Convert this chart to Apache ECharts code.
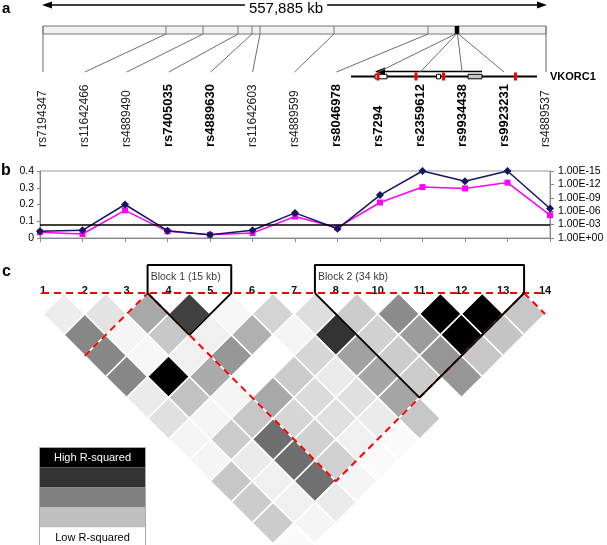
<!DOCTYPE html>
<html><head><meta charset="utf-8">
<script src="https://cdn.jsdelivr.net/npm/echarts/dist/echarts.min.js"></script>
<style>html,body{margin:0;padding:0;background:#fff}#c{width:607px;height:545px}</style>
</head><body><div id="c"></div>
<script>
// ---------------- data ----------------
const snpIds = ['rs7194347','rs11642466','rs4889490','rs7405035','rs4889630','rs11642603','rs4889599','rs8046978','rs7294','rs2359612','rs9934438','rs9923231','rs4889537'];
const boldSnps = ['rs7405035','rs4889630','rs8046978','rs7294','rs2359612','rs9934438','rs9923231'];
const vkorc1Snps = ['rs7294','rs2359612','rs9934438','rs9923231'];
const regionKb = 557.885;
const snpPosKb = [0, 136.4, 177.5, 216.3, 231.8, 240.7, 322.8, 427.0, 457.5, 458.6, 459.7, 460.8, 557.885];

// panel b
const effectValues = [0.04, 0.046, 0.20, 0.044, 0.02, 0.046, 0.15, 0.055, 0.256, 0.40, 0.339, 0.40, 0.176];
const pValueNegLog10 = [1.3, 0.9, 6.2, 1.5, 0.7, 1.1, 4.8, 2.3, 7.95, 11.4, 11.1, 12.4, 5.1];
const pThresholdNegLog10 = 3;
const leftTicks = [0, 0.1, 0.2, 0.3, 0.4];
const rightTickLabels = ['1.00E+00','1.00E-03','1.00E-06','1.00E-09','1.00E-12','1.00E-15'];

// panel c : r-squared by marker distance (row 1 = adjacent pairs)
const ldMarkerLabels = ['1','2','3','4','5','6','7','8','10','11','12','13','14'];
const ldRows = [
  [0.07,0.11,0.34,0.75,0.03,0.17,0.13,0.20,0.45,1.0,1.0,0.22],
  [0.47,0.04,0.22,0.06,0.31,0.04,0.80,0.18,0.39,1.0,0.23],
  [0.47,0.03,0.06,0.41,0.00,0.16,0.37,0.20,0.41,0.22],
  [0.47,1.0,0.33,0.00,0.20,0.08,0.35,0.20,0.41],
  [0.08,0.24,0.04,0.34,0.14,0.12,0.35,0.00],
  [0.12,0.04,0.22,0.16,0.12,0.08,0.22],
  [0.04,0.20,0.57,0.18,0.06,0.02],
  [0.04,0.08,0.57,0.18,0.02],
  [0.22,0.06,0.56,0.04],
  [0.20,0.06,0.08],
  [0.20,0.04],
  [0.02]
];
const blockNames = ['Block 1 (15 kb)', 'Block 2 (34 kb)'];
const blockMarkers = [[4,5],[8,12]];
const dashedBlocks = [[1,3],[4,12],[13,13]];
const legendLabels = ['High R-squared','Low R-squared'];
const legendShades = ['#000000','#333333','#808080','#c0c0c0','#ffffff'];

// ---------------- chart ----------------
const FONT = 'Liberation Sans, Arial, Helvetica, sans-serif';
const nM = ldMarkerLabels.length;
const chart = echarts.init(document.getElementById('c'), null, {renderer:'canvas'});

const ldData = [];
ldRows.forEach((row, ri) => {
  const r = ri + 1;
  row.forEach((v, k) => { const i = k + 1, j = i + r; ldData.push([(i + j) / 2, r, v]); });
});

const boxTop = -1.34;
const lineSeries = [];
function addLine(pts, color, dashed, width) {
  lineSeries.push({type:'line', xAxisIndex:3, yAxisIndex:4, data:pts, symbol:'none', silent:true, clip:false, animation:false,
    lineStyle:{color:color, width:width, type: dashed ? [7,5] : 'solid'}, z:5});
}
addLine([[0.69,0],[nM+0.5,0]], '#ff0000', true, 2);
dashedBlocks.forEach(([a,b]) => {
  const bottom = [(a+b)/2, b-a+1];
  const pts = [];
  if (a > 1) pts.push([a-0.5, 0]);
  pts.push(bottom);
  if (b < nM) pts.push([b+0.5, 0]);
  addLine(pts, '#ff0000', true, 2);
});
blockMarkers.forEach(([a,b]) => {
  addLine([[a-0.5,0],[a-0.5,boxTop],[b+0.5,boxTop],[b+0.5,0],[(a+b)/2,b-a+1],[a-0.5,0]], '#000', false, 2);
});

const option = {
  animation:false,
  textStyle:{fontFamily:FONT},
  grid:[
    {left:43, width:503, top:26, height:46},
    {left:43, width:503, top:149, height:1},
    {left:40, width:510, top:171, height:67, show:true, borderColor:'#999', borderWidth:1},
    {left:43, width:502, top:293.1, height:250.8}
  ],
  xAxis:[
    {gridIndex:0, type:'value', min:0, max:regionKb, show:false},
    {gridIndex:1, type:'category', data:snpIds, position:'top', boundaryGap:false,
      axisLine:{show:false}, axisTick:{show:false},
      axisLabel:{rotate:90, margin:2, interval:0, color:'#000',
        formatter: v => boldSnps.includes(v) ? '{b|'+v+'}' : '{n|'+v+'}',
        rich:{b:{fontWeight:'bold', fontSize:13, fontFamily:FONT, color:'#000'}, n:{fontSize:12, fontFamily:FONT, color:'#222'}}}},
    {gridIndex:2, type:'category', data:snpIds, boundaryGap:false,
      axisLine:{lineStyle:{color:'#888'}}, axisTick:{show:true, length:4, interval:0, lineStyle:{color:'#888'}},
      axisLabel:{show:false}, splitLine:{show:false}},
    {gridIndex:3, type:'value', min:1, max:nM, interval:1, position:'top',
      axisLine:{show:false}, axisTick:{show:false}, splitLine:{show:false},
      axisLabel:{margin:-3, fontSize:11, fontWeight:'bold', color:'#111', fontFamily:FONT,
        formatter: v => ldMarkerLabels[Math.round(v)-1] || ''}}
  ],
  yAxis:[
    {gridIndex:0, type:'value', min:0, max:1, show:false},
    {gridIndex:1, type:'value', show:false},
    {gridIndex:2, type:'value', min:leftTicks[0], max:leftTicks[leftTicks.length-1], interval:0.1,
      axisLine:{show:true, lineStyle:{color:'#888'}}, axisTick:{show:true, length:3, lineStyle:{color:'#888'}},
      splitLine:{show:false},
      axisLabel:{fontSize:10.5, color:'#000', margin:6, formatter: v => v === 0 ? '0' : v.toFixed(1)}},
    {gridIndex:2, type:'value', position:'right', min:0, max:15, interval:3,
      axisLine:{show:true, lineStyle:{color:'#888'}}, axisTick:{show:true, length:4, lineStyle:{color:'#888'}},
      splitLine:{show:false},
      axisLabel:{fontSize:10.5, color:'#000', margin:8, formatter: v => rightTickLabels[Math.round(v/3)]}},
    {gridIndex:3, type:'value', inverse:true, min:0, max:12, show:false}
  ],
  series:[
    {type:'custom', xAxisIndex:0, yAxisIndex:0, silent:true, data:[[0, regionKb]],
      renderItem(params, api){
        const cs = params.coordSys;
        const x0 = api.coord([api.value(0),0])[0], x1 = api.coord([api.value(1),0])[0];
        return {type:'rect', shape:{x:x0, y:cs.y, width:x1-x0, height:8}, style:{fill:'#f1f1f1', stroke:'#777', lineWidth:1}};
      }},
    {type:'custom', xAxisIndex:0, yAxisIndex:0, silent:true, z:3,
      data: snpPosKb.map((kb,k) => [kb,k]),
      renderItem(params, api){
        const cs = params.coordSys;
        const k = api.value(1);
        const x = api.coord([api.value(0),0])[0];
        const xl = api.coord([k/(snpIds.length-1)*regionKb,0])[0];
        const inGene = vkorc1Snps.includes(snpIds[params.dataIndex]);
        return {type:'group', children:[
          {type:'line', shape:{x1:x,y1:cs.y,x2:x,y2:cs.y+8}, style:{stroke: inGene?'#000':'#777', lineWidth: inGene?1.5:1}},
          {type:'line', shape:{x1:x,y1:cs.y+8,x2:xl,y2:cs.y+cs.height}, style:{stroke:'#6d6d6d', lineWidth:1}}
        ]};
      }},
    {type:'line', name:'p', xAxisIndex:2, yAxisIndex:3, data:pValueNegLog10, color:'#ff00ff',
      symbol:'rect', symbolSize:6, lineStyle:{width:1.5, color:'#ff00ff'}, itemStyle:{color:'#ff00ff'},
      markLine:{silent:true, symbol:'none', label:{show:false}, data:[{yAxis:pThresholdNegLog10}],
        lineStyle:{color:'#000', width:1.5, type:'solid'}}},
    {type:'line', name:'r', xAxisIndex:2, yAxisIndex:2, data:effectValues, color:'#161660',
      symbol:'diamond', symbolSize:8, lineStyle:{width:1.5, color:'#161660'}, itemStyle:{color:'#161660'}, z:4},
    {type:'custom', xAxisIndex:3, yAxisIndex:4, silent:true, data:ldData,
      renderItem(params, api){
        const cx = api.value(0), r = api.value(1), v = api.value(2);
        const pts = [api.coord([cx-0.5,r]), api.coord([cx,r-1]), api.coord([cx+0.5,r]), api.coord([cx,r+1])];
        const g = Math.round(255*(1-v));
        return {type:'polygon', shape:{points:pts}, style:{fill:'rgb('+g+','+g+','+g+')', stroke:'#fff', lineWidth:1.5}};
      }},
    ...lineSeries,
    {type:'scatter', xAxisIndex:3, yAxisIndex:4, silent:true, clip:false, symbolSize:0.1,
      data: blockMarkers.map(([a,b]) => [a-0.5, -0.77]),
      label:{show:true, position:'right', distance:3, fontSize:10.5, color:'#000', fontFamily:FONT,
        formatter: p => blockNames[p.dataIndex]}, z:6}
  ],
  graphic:[
    {type:'text', left:2, top:1, style:{text:'a', font:'bold 15px '+FONT, fill:'#000'}},
    {type:'text', left:1, top:163, style:{text:'b', font:'bold 16px '+FONT, fill:'#000'}},
    {type:'text', left:2, top:264, style:{text:'c', font:'bold 16px '+FONT, fill:'#000'}},
    {type:'line', shape:{x1:50, y1:5, x2:538, y2:5}, style:{stroke:'#000', lineWidth:1.5}},
    {type:'polygon', shape:{points:[[42,5],[52,1.5],[52,8.5]]}, style:{fill:'#000'}},
    {type:'polygon', shape:{points:[[547,5],[537,1.5],[537,8.5]]}, style:{fill:'#000'}},
    {type:'text', x:286, y:9, style:{text:'557,885 kb', font:'15px '+FONT, fill:'#000', align:'center', verticalAlign:'middle', backgroundColor:'#fff', padding:[0,4]}},
    {type:'line', shape:{x1:351, y1:76.5, x2:537, y2:76.5}, style:{stroke:'#000', lineWidth:2}},
    {type:'line', shape:{x1:383, y1:71.5, x2:482, y2:71.5}, style:{stroke:'#000', lineWidth:1.5}},
    {type:'polygon', shape:{points:[[375,71.5],[385,67.5],[385,75.5]]}, style:{fill:'#000'}},
    {type:'rect', shape:{x:375, y:74.3, width:12, height:4.5}, style:{fill:'#fff', stroke:'#000', lineWidth:1}},
    {type:'rect', shape:{x:436.5, y:74.3, width:4, height:4.5}, style:{fill:'#fff', stroke:'#000', lineWidth:1}},
    {type:'rect', shape:{x:468, y:74.3, width:14, height:4.5}, style:{fill:'#c8c8c8', stroke:'#000', lineWidth:1}},
    {type:'rect', shape:{x:376.5, y:72.5, width:3, height:8}, style:{fill:'#ff0000'}},
    {type:'rect', shape:{x:414.5, y:72.5, width:3, height:8}, style:{fill:'#ff0000'}},
    {type:'rect', shape:{x:442, y:72.5, width:3, height:8}, style:{fill:'#ff0000'}},
    {type:'rect', shape:{x:514, y:72.5, width:3, height:8}, style:{fill:'#ff0000'}},
    {type:'text', x:550, y:77, style:{text:'VKORC1', font:'bold 11px '+FONT, fill:'#000', verticalAlign:'middle'}},
    {type:'group', left:37, top:445, children: legendShades.map((c,i) => ({
      type:'rect', shape:{x:0, y:i*20, width:106, height:20}, style:{fill:c}
    })).concat([
      {type:'rect', shape:{x:0, y:0, width:106, height:100}, style:{fill:'none', stroke:'#aaa', lineWidth:1}},
      {type:'text', x:53, y:10, style:{text:legendLabels[0], font:'11px '+FONT, fill:'#fff', align:'center', verticalAlign:'middle'}},
      {type:'text', x:53, y:90, style:{text:legendLabels[1], font:'11px '+FONT, fill:'#000', align:'center', verticalAlign:'middle'}}
    ])}
  ]
};
chart.setOption(option);
</script></body></html>
